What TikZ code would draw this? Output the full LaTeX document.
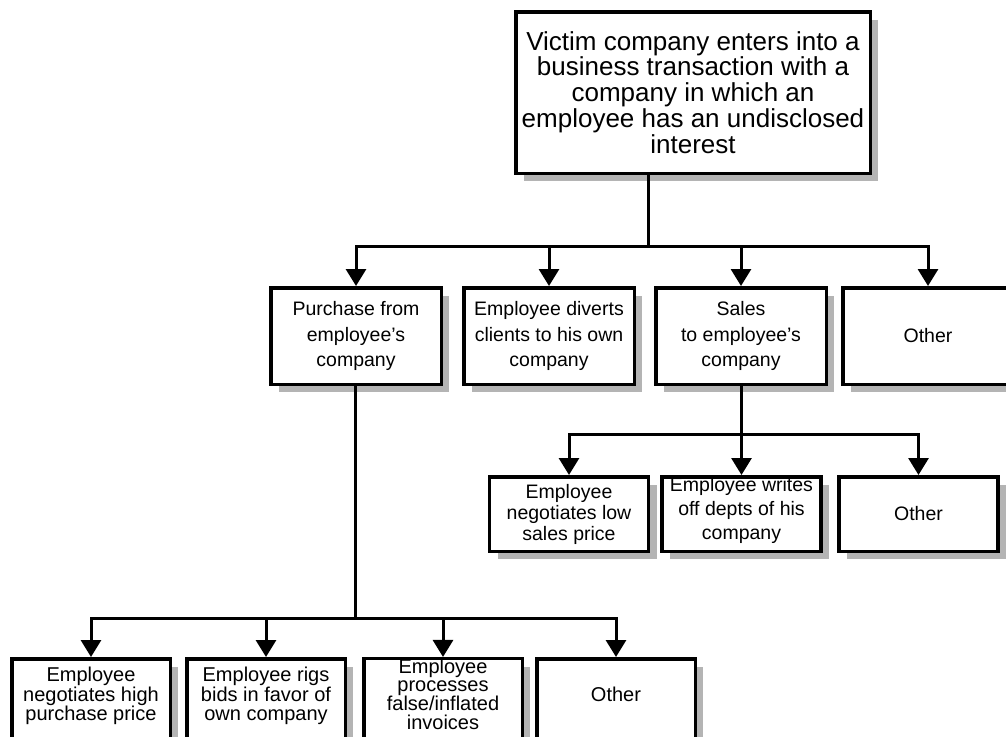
\documentclass[tikz,border=0pt]{standalone}
\usepackage{fontspec}
\setmainfont{Liberation Sans}
\usetikzlibrary{arrows.meta,shadows}
\definecolor{shade}{RGB}{180,180,180}
% invisible strut that deepens the last line, lifting centred text a little
\newcommand{\liftstrut}[1]{\vrule width 0pt height 0pt depth #1\relax}
\tikzset{
  box/.style={draw=black, line width=3.5pt, fill=white, align=center, inner sep=0pt,
    drop shadow={shadow xshift=8pt, shadow yshift=-8pt, fill=shade, opacity=1}},
  rowtwo/.style={box, minimum width=170.5pt, minimum height=96.5pt,
    font=\fontsize{19.5}{25.5}\selectfont},
  rowthree/.style={box, minimum width=159pt, minimum height=74.5pt,
    font=\fontsize{19.5}{21}\selectfont},
  rowfour/.style={box, minimum width=158.5pt, minimum height=80.5pt,
    font=\fontsize{20}{19.5}\selectfont},
  conn/.style={draw=black, line width=3pt, line cap=rect},
  arr/.style={draw=black, line width=3pt, -{Triangle[width=20pt,length=17pt]}}
}
\begin{document}
\begin{tikzpicture}[x=1pt, y=-1pt]
  \useasboundingbox (0,0) rectangle (1006,736);
  \clip (0,0) rectangle (1006,736);

  % root of the scheme
  \node[box, minimum width=354.5pt, minimum height=161.5pt,
        font=\fontsize{26}{25.8}\selectfont] (top) at (693,92.5)
    {Victim company enters into a\\business transaction with a\\company in which an\\employee has an undisclosed\\interest};

  % first level
  \node[rowtwo] (A) at (356,336) {Purchase from\\employee’s\\company};
  \node[rowtwo] (B) at (549,336) {Employee diverts\\clients to his own\\company};
  \node[rowtwo] (C) at (741,336) {Sales\\to employee’s\\company};
  \node[rowtwo] (D) at (928,336) {Other};

  % sales branch
  \node[rowthree] (E) at (569,514) {Employee\\negotiates low\\sales price};
  \node[rowthree, font=\fontsize{19.5}{24}\selectfont] (F) at (741.5,514)
    {Employee writes\\off depts of his\\company\liftstrut{11pt}};
  \node[rowthree] (G) at (918.5,514) {Other};

  % purchase branch
  \node[rowfour] (H) at (91,699) {Employee\\negotiates high\\purchase price\liftstrut{10pt}};
  \node[rowfour] (I) at (266,699) {Employee rigs\\bids in favor of\\own company\liftstrut{10pt}};
  \node[rowfour, font=\fontsize{20}{18.7}\selectfont] (J) at (443,699)
    {Employee\\processes\\false/inflated\\invoices\liftstrut{10pt}};
  \node[rowfour] (K) at (616,699) {Other\liftstrut{10pt}};

  % junction points of the connectors
  \coordinate (j1) at (648,246);
  \coordinate (j2) at (741,434);
  \coordinate (j3) at (355,618);

  % connectors from the root
  \draw[conn] (top.south -| j1) -- (j1);
  \draw[conn] (A.north |- j1) -- (D.north |- j1);
  \foreach \n in {A,B,C,D}
    \draw[arr] (\n.north |- j1) -- (\n.north);

  % connectors of the sales branch
  \draw[conn] (C.south) -- (C.south |- j2);
  \draw[conn] (E.north |- j2) -- (G.north |- j2);
  \foreach \n in {E,F,G}
    \draw[arr] (\n.north |- j2) -- (\n.north);

  % connectors of the purchase branch
  \draw[conn] (A.south -| j3) -- (j3);
  \draw[conn] (H.north |- j3) -- (K.north |- j3);
  \foreach \n in {H,I,J,K}
    \draw[arr] (\n.north |- j3) -- (\n.north);
\end{tikzpicture}
\end{document}
